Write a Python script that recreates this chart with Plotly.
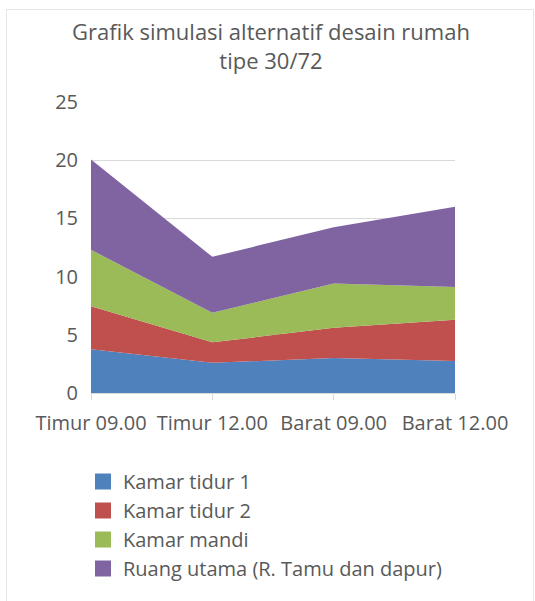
import plotly.graph_objects as go

categories = ["Timur 09.00", "Timur 12.00", "Barat 09.00", "Barat 12.00"]
series_names = ["Kamar tidur 1", "Kamar tidur 2", "Kamar mandi", "Ruang utama (R. Tamu dan dapur)"]
kamar_tidur_1 = [3.75, 2.6, 3.0, 2.75]
kamar_tidur_2 = [3.7, 1.75, 2.6, 3.55]
kamar_mandi = [4.85, 2.55, 3.8, 2.8]
ruang_utama = [7.75, 4.8, 4.85, 6.9]
colors = ["#4F81BD", "#C0504D", "#9BBB59", "#8064A2"]
title_text = "Grafik simulasi alternatif desain rumah<br>tipe 30/72"

FONT = "Open Sans"
GREY = "#595959"

fig = go.Figure()
for i, (name, vals) in enumerate(zip(series_names, [kamar_tidur_1, kamar_tidur_2, kamar_mandi, ruang_utama])):
    fig.add_trace(go.Scatter(
        x=categories, y=vals, name=name, mode="none",
        stackgroup="one", fillcolor=colors[i], showlegend=False,
    ))
# legend entries with square swatches
for i, name in enumerate(series_names):
    fig.add_trace(go.Scatter(
        x=[categories[0]], y=[None], name=name, mode="markers",
        marker=dict(symbol="square", size=16, color=colors[i]),
        legendgroup=f"g{i}", showlegend=True, hoverinfo="skip",
    ))

# Plot area: x 91..455, y 102..393 px
L, R, T, B = 91, 80, 102, 208
pw, ph = 535 - L - R, 601 - T - B

def px2x(px):
    return (px - L) / pw

def py2y(py):
    return (393 - py) / ph

border = dict(type="line", xref="paper", yref="paper", line=dict(color="#E6E6E6", width=1), layer="below")
fig.add_shape(x0=px2x(6), x1=px2x(534), y0=py2y(9.5), y1=py2y(9.5), **border)
fig.add_shape(x0=px2x(6.5), x1=px2x(6.5), y0=py2y(9.5), y1=py2y(601), **border)
fig.add_shape(x0=px2x(533.5), x1=px2x(533.5), y0=py2y(9.5), y1=py2y(601), **border)

fig.add_annotation(
    text=title_text, xref="paper", yref="paper",
    x=px2x(271), y=py2y(14), xanchor="center", yanchor="top",
    showarrow=False, align="center",
    font=dict(size=22, color=GREY, family=FONT),
)

fig.update_layout(
    width=535, height=601,
    margin=dict(l=L, r=R, t=T, b=B),
    paper_bgcolor="white", plot_bgcolor="white",
    font=dict(family=FONT, color=GREY, size=20),
    xaxis=dict(
        type="category", range=[0, 3], showgrid=False,
        showline=True, linecolor="#D9D9D9", linewidth=1,
        ticks="outside", ticklen=6, tickcolor="#D9D9D9",
        ticklabelstandoff=6,
        tickfont=dict(size=20, color=GREY), zeroline=False,
    ),
    yaxis=dict(
        range=[0, 25], dtick=5, showgrid=True, gridcolor="#D9D9D9", gridwidth=1,
        zeroline=False, showline=False, ticks="", ticklabelstandoff=12,
        tickfont=dict(size=20, color=GREY),
    ),
    showlegend=True,
    legend=dict(
        x=px2x(83), y=py2y(462), xanchor="left", yanchor="top",
        font=dict(size=20, color=GREY, family=FONT),
        tracegroupgap=0, traceorder="normal", itemwidth=30,
        bgcolor="rgba(0,0,0,0)",
    ),
)

fig.write_html("out.html")
